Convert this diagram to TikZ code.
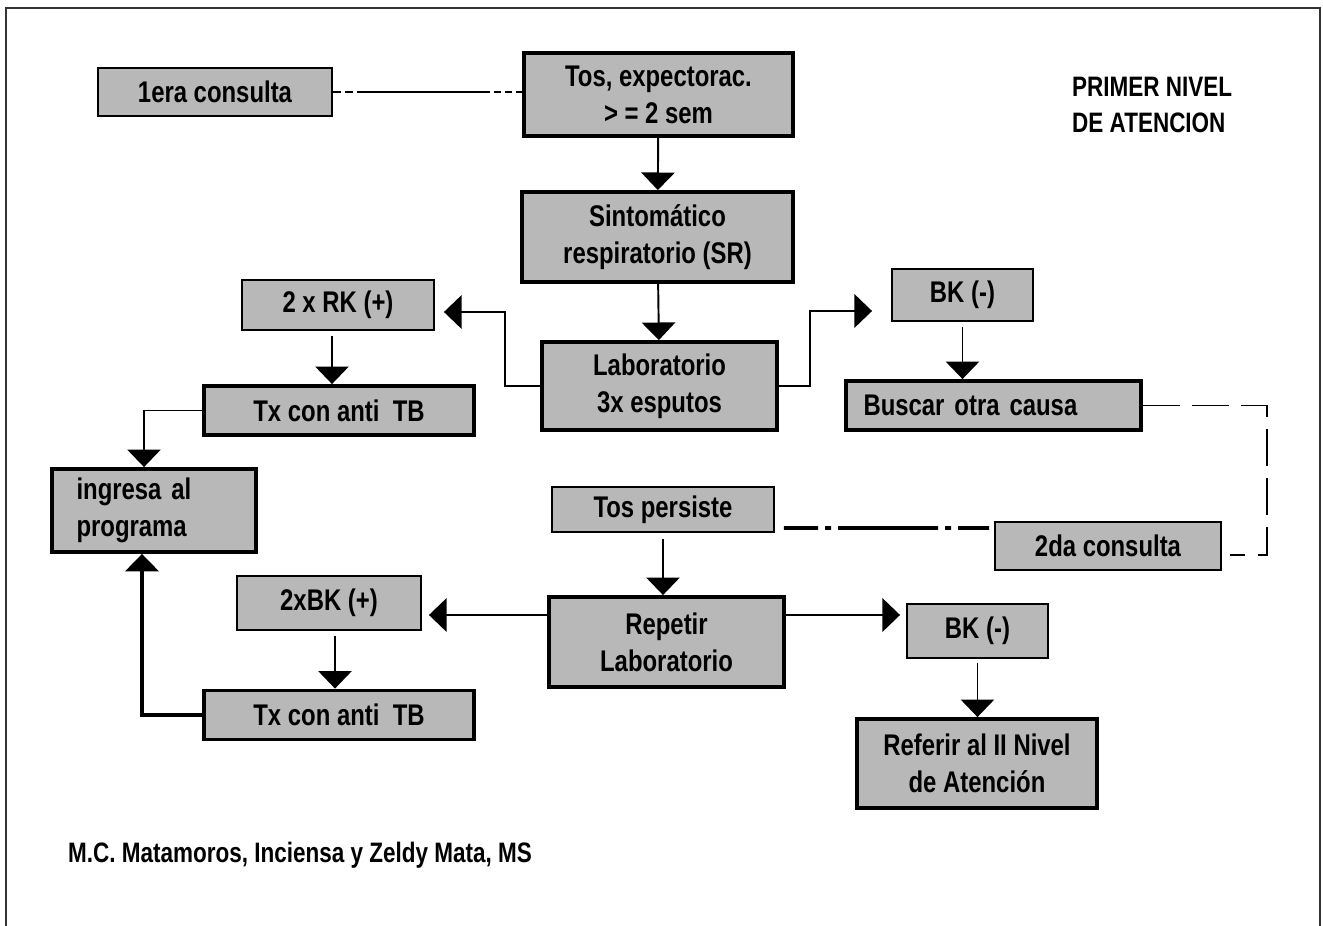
\documentclass[tikz,border=0pt]{standalone}
\usepackage{fontspec}
\setmainfont[FakeStretch=0.8]{Liberation Sans}
\usetikzlibrary{calc, arrows.meta}
\definecolor{boxgray}{gray}{0.72}

\begin{document}
\begin{tikzpicture}[x=0.02cm, y=-0.02cm,
    box/.style={draw, fill=boxgray, inner sep=0pt, align=center, font=\bfseries\fontsize{17}{21}\selectfont},
    thinbox/.style={box, line width=1.1pt},
    thickbox/.style={box, line width=2.2pt},
    arr/.style={-{Triangle[width=19pt,length=10pt]}, line width=1.1pt}]
    \useasboundingbox (0,0) rectangle (1323,926);
    \draw[line width=1.2pt, black!80] (6,926) -- (6,8) -- (1320,8) -- (1320,926);

    \node[thinbox, minimum width=4.68cm, minimum height=0.96cm] (c1) at (215,92) {1era consulta};
    \node[thickbox, minimum width=5.38cm, minimum height=1.66cm] (tos) at (658.5,94.5) {Tos, expectorac.\\> = 2 sem};
    \node[thickbox, minimum width=5.42cm, minimum height=1.8cm] (sint) at (657.5,237) {Sintomático\\respiratorio (SR)};
    \node[thickbox, minimum width=4.7cm, minimum height=1.76cm] (lab) at (659.5,386) {Laboratorio\\3x esputos};
    \node[thinbox, minimum width=3.84cm, minimum height=1cm] (rk) at (338,305) {2 x RK (+)};
    \node[thickbox, minimum width=5.4cm, minimum height=0.98cm] (tx1) at (339,410.5) {Tx con anti\ \ TB};
    \node[thickbox, minimum width=4.08cm, minimum height=1.66cm, text width=3.1cm, align=left] (ing) at (154,510.5) {ingresa al\\programa};
    \node[thinbox, minimum width=3.68cm, minimum height=1.08cm] (bk2) at (329,603) {2xBK (+)};
    \node[thickbox, minimum width=5.4cm, minimum height=0.98cm] (tx2) at (339,715) {Tx con anti\ \ TB};
    \node[thinbox, minimum width=2.82cm, minimum height=1.04cm] (bkn1) at (962.5,295) {BK (-)};
    \node[thickbox, minimum width=5.9cm, minimum height=0.98cm, text width=5.2cm, align=left] (busc) at (993.5,405.5) {Buscar otra causa};
    \node[thinbox, minimum width=4.44cm, minimum height=0.9cm] (tosp) at (663,509.5) {Tos persiste};
    \node[thinbox, minimum width=4.52cm, minimum height=0.96cm] (seg) at (1108,546) {2da consulta};
    \node[thickbox, minimum width=4.7cm, minimum height=1.8cm] (rep) at (666.5,642) {Repetir\\Laboratorio};
    \node[thinbox, minimum width=2.82cm, minimum height=1.08cm] (bkn2) at (977.5,631) {BK (-)};
    \node[thickbox, minimum width=4.8cm, minimum height=1.78cm] (ref) at (977,763.5) {Referir al II Nivel\\de Atención};

    \node[anchor=west, align=left, font=\bfseries\fontsize{16}{20}\selectfont] (nivel) at (1066,105) {PRIMER NIVEL\\DE ATENCION};
    \node[anchor=west, font=\bfseries\fontsize{16}{19}\selectfont] (autores) at (62,855) {M.C. Matamoros, Inciensa y Zeldy Mata, MS};

    \draw[line width=0.9pt, dash pattern=on 4.6pt off 2.3pt on 4.6pt off 2.3pt on 75.7pt off 2.3pt on 4pt off 2.3pt on 4pt off 2.3pt on 6pt]
        (c1.east) -- (c1.east -| tos.west);
    \draw[arr] (tos) -- (sint);
    \draw[arr] (sint) -- (lab);
    \draw[arr, shorten >=0.18cm] (lab.west) -- ++(-35,0) |- ($(rk.east)+(0,7)$);
    \draw[arr, shorten >=0.38cm] (lab.east) -- ++(31,0) |- ($(bkn1.west)+(0,16)$);
    \draw[arr, shorten <=0.1cm] ($(rk.south)+(-6,0)$) -- ($(tx1.north)+(-7,0)$);
    \draw[arr] (tx1.west) -| ($(ing.north)+(-10,0)$);
    \draw[arr, shorten <=0.1cm] (bkn1.south) -- (bkn1.south |- busc.north);
    \draw[line width=1.1pt, dash pattern=on 21pt off 7pt]
        (busc.east) -- ++(124,0) |- ($(seg.east)+(8,9)$);
    \draw[line width=2.2pt, dash pattern=on 19.4pt off 4pt on 3.4pt off 4pt on 57pt off 4pt on 3.4pt off 4pt on 21pt]
        ($(tosp.east)+(9,18.5)$) -- ($(seg.west)+(-5,-18)$);
    \draw[arr, shorten <=0.12cm] (tosp.south) -- (tosp.south |- rep.north);
    \draw[arr] ($(rep.west)+(0,-27)$) -- ($(bk2.east)+(7,12)$);
    \draw[arr] ($(rep.east)+(0,-27)$) -- ($(bkn2.west)+(-6,-16)$);
    \draw[arr, shorten <=0.1cm] ($(bk2.south)+(6,0)$) -- ($(tx2.north)+(-4,0)$);
    \draw[arr, shorten <=0.08cm] (bkn2.south) -- (bkn2.south |- ref.north);
    \draw[arr, line width=2.2pt] (tx2.west) -| ($(ing.south)+(-12,0)$);
\end{tikzpicture}
\end{document}
